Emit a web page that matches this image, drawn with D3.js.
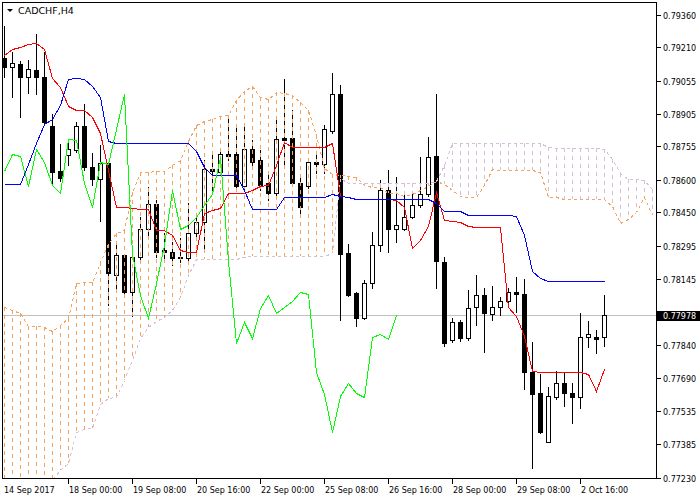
<!DOCTYPE html>
<html><head><meta charset="utf-8">
<script src="https://cdn.jsdelivr.net/npm/d3@7"></script>
<style>body{margin:0;background:#fff}svg{display:block}text{font-family:"DejaVu Sans",sans-serif}</style>
</head><body>
<svg id="c" width="700" height="500"></svg>
<script>
const symbol = "CADCHF,H4";
const opens = [.79161,.79121,.79132,.79075,.79106,.79075,.78848,.78641,.78714,.78737,
.78848,.78661,.78603,.78676,.78161,.78253,.78085,.78246,.78372,.78489,
.78277,.78269,.78246,.78239,.78354,.78405,.78650,.78638,.78718,.78718,
.78572,.78741,.78691,.78587,.78538,.78791,.78791,.78587,.78572,.78682,
.78672,.78826,.78994,.78262,.78078,.77966,.78124,.78299,.78553,.78372,
.78372,.78428,.78483,.78534,.78708,.78222,.77863,.77947,.77871,.78013,
.78069,.77983,.78016,.78044,.78085,.78075,.77714,.77618,.77395,.77602,
.77664,.77618,.77599,.77875,.77875,.77875];
const highs = [.79308,.79190,.79148,.79152,.79270,.79190,.78903,.78765,.78768,.78868,
.78949,.78722,.78760,.78684,.78308,.78259,.78254,.78430,.78566,.78507,
.78355,.78315,.78331,.78492,.78438,.78691,.78722,.78741,.78885,.78845,
.78845,.78783,.78737,.78622,.78875,.79064,.78921,.78609,.78691,.78722,
.78852,.79090,.79037,.78303,.78084,.78139,.78359,.78599,.78645,.78612,
.78541,.78538,.78704,.78796,.78994,.78246,.77963,.77955,.78093,.78162,
.78101,.78111,.78062,.78101,.78152,.78142,.77855,.77707,.77648,.77722,
.77713,.77664,.77986,.77950,.77909,.78070];
const lows = [.79073,.78983,.78891,.79001,.78994,.78862,.78576,.78596,.78668,.78730,
.78645,.78576,.78412,.78024,.78096,.78062,.77975,.78217,.78342,.78246,
.78231,.78208,.78222,.78222,.78323,.78277,.78540,.78622,.78691,.78561,
.78553,.78668,.78553,.78507,.78522,.78661,.78576,.78438,.78561,.78630,
.78630,.78817,.77955,.78065,.77929,.77958,.78104,.78274,.78269,.78315,
.78369,.78423,.78476,.78526,.78101,.77835,.77854,.77858,.77863,.77932,
.77809,.77955,.77978,.78038,.77993,.77636,.77275,.77435,.77393,.77591,
.77559,.77482,.77549,.77832,.77802,.77836];
const closes = [.79119,.79139,.79072,.79109,.79075,.78868,.78638,.78607,.78741,.78848,
.78658,.78603,.78676,.78170,.78253,.78085,.78246,.78374,.78489,.78267,
.78268,.78239,.78239,.78354,.78405,.78650,.78641,.78718,.78710,.78572,
.78741,.78684,.78576,.78538,.78787,.78783,.78587,.78476,.78684,.78673,
.78833,.78994,.78257,.78070,.77966,.78124,.78300,.78553,.78372,.78391,
.78428,.78483,.78534,.78707,.78225,.77849,.77947,.77871,.78009,.78069,
.77986,.78016,.78044,.78085,.78075,.77717,.77615,.77441,.77605,.77664,
.77618,.77602,.77875,.77889,.77869,.77978];
const tenkan = [.79175,.79204,.79211,.79227,.79228,.79204,.79069,.79027,.78940,.78921,
.78921,.78889,.78816,.78645,.78475,.78475,.78470,.78466,.78466,.78369,
.78367,.78346,.78277,.78269,.78269,.78447,.78461,.78470,.78540,.78540,
.78540,.78553,.78572,.78576,.78668,.78776,.78753,.78753,.78753,.78753,
.78753,.78768,.78526,.78521,.78512,.78512,.78512,.78512,.78512,.78507,
.78475,.78286,.78323,.78388,.78544,.78415,.78411,.78407,.78389,.78384,
.78384,.78384,.78384,.78015,.77973,.77881,.77720,.77717,.77717,.77717,
.77717,.77717,.77717,.77707,.77628,.77730];
const kijun = [.78581,.78581,.78581,.78673,.78770,.78857,.78880,.78944,.79064,.79067,
.79064,.79032,.78981,.78779,.78768,.78768,.78768,.78768,.78768,.78768,
.78768,.78768,.78768,.78768,.78733,.78659,.78622,.78622,.78622,.78622,
.78553,.78466,.78466,.78466,.78466,.78522,.78522,.78522,.78522,.78522,
.78522,.78534,.78526,.78522,.78510,.78510,.78510,.78510,.78510,.78510,
.78510,.78510,.78510,.78510,.78493,.78458,.78458,.78458,.78438,.78438,
.78438,.78438,.78438,.78438,.78434,.78346,.78180,.78148,.78135,.78135,
.78135,.78135,.78135,.78135,.78135,.78135];
const chikou = [.78641,.78718,.78710,.78572,.78741,.78684,.78576,.78538,.78787,.78783,
.78587,.78476,.78684,.78673,.78833,.78994,.78257,.78070,.77966,.78124,
.78300,.78553,.78372,.78391,.78428,.78483,.78534,.78707,.78225,.77849,
.77947,.77871,.78009,.78069,.77986,.78016,.78044,.78085,.78075,.77717,
.77615,.77441,.77605,.77664,.77618,.77602,.77875,.77889,.77869,.77978];
const senkouA = [.78013,.78001,.77987,.77927,.77925,.77923,.77904,.77934,.77964,.78125,
.78130,.78130,.78222,.78305,.78355,.78369,.78544,.78636,.78638,.78641,
.78642,.78668,.78691,.78779,.78852,.78869,.78878,.78894,.78898,.78967,
.79009,.79032,.78981,.78972,.79006,.78998,.78991,.78960,.78921,.78806,
.78655,.78627,.78622,.78618,.78615,.78576,.78569,.78567,.78540,.78538,
.78526,.78535,.78553,.78572,.78595,.78581,.78553,.78526,.78520,.78520,
.78576,.78648,.78645,.78645,.78645,.78645,.78645,.78636,.78523,.78521,
.78510,.78510,.78510,.78510,.78510,.78510,.78480,.78401,.78418,.78452,
.78519,.78438];
const senkouB = [.77173,.77173,.77173,.77173,.77173,.77173,.77219,.77265,.77297,.77440,
.77453,.77458,.77568,.77596,.77599,.77679,.77771,.77872,.77923,.77950,
.77969,.78001,.78061,.78162,.78236,.78236,.78236,.78236,.78236,.78236,
.78247,.78250,.78250,.78250,.78250,.78250,.78250,.78250,.78250,.78250,
.78250,.78263,.78609,.78586,.78586,.78584,.78584,.78584,.78584,.78584,
.78584,.78584,.78584,.78584,.78595,.78668,.78768,.78768,.78768,.78768,
.78768,.78768,.78768,.78768,.78768,.78768,.78768,.78768,.78753,.78747,
.78747,.78747,.78747,.78747,.78747,.78740,.78696,.78632,.78604,.78602,
.78599,.78558];
const priceTicks = [0.79360,0.79210,0.79055,0.78905,0.78755,0.78600,0.78450,0.78295,0.78145,0.77840,0.77690,0.77535,0.77385,0.77230];
const timeTickIdx = [0,8,16,24,32,40,48,56,64,72];
const timeTickLabels = ["14 Sep 2017","18 Sep 00:00","19 Sep 08:00","20 Sep 16:00","22 Sep 00:00","25 Sep 08:00","26 Sep 16:00","28 Sep 00:00","29 Sep 08:00","2 Oct 16:00"];

const svg = d3.select('#c');
const x = d3.scaleLinear().domain([0,81]).range([4,652]);
const y = d3.scaleLinear().domain([0.77230,0.79360]).range([477.5,14.7]);
const X = i => Math.round(x(i));
const Y = v => Math.round(y(v));
const ORANGE = '#F4A460', THISTLE = '#D8BFD8';

svg.append('defs').append('clipPath').attr('id','clip')
  .append('rect').attr('x',3).attr('y',3).attr('width',653).attr('height',475);
const plot = svg.append('g').attr('clip-path','url(#clip)');

const last = closes[closes.length-1];
plot.append('line').attr('x1',3).attr('x2',656).attr('y1',Y(last)+0.5).attr('y2',Y(last)+0.5)
  .attr('stroke','#C0C0C0').attr('shape-rendering','crispEdges');

// candles
const cg = plot.append('g').attr('shape-rendering','crispEdges');
closes.forEach((c,i)=>{
  const cx = X(i), o = opens[i];
  cg.append('line').attr('x1',cx+0.5).attr('x2',cx+0.5).attr('y1',Y(highs[i])).attr('y2',Y(lows[i])+1).attr('stroke','#000');
  const top = Y(Math.max(o,c)), bot = Y(Math.min(o,c));
  if (bot-top < 1) {
    cg.append('line').attr('x1',cx-2).attr('x2',cx+3).attr('y1',top+0.5).attr('y2',top+0.5).attr('stroke','#000');
  } else {
    cg.append('rect').attr('x',cx-1.5).attr('y',top+0.5).attr('width',4).attr('height',bot-top)
      .attr('fill', c>=o ? '#fff' : '#000').attr('stroke','#000');
  }
});

// cloud
const cl = plot.append('g').attr('shape-rendering','crispEdges');
senkouA.forEach((a,i)=>{
  const b = senkouB[i];
  cl.append('line').attr('x1',X(i)+0.5).attr('x2',X(i)+0.5).attr('y1',Y(Math.max(a,b))).attr('y2',Y(Math.min(a,b)))
    .attr('stroke', a>=b ? ORANGE : THISTLE).attr('stroke-dasharray','4,4');
});
const line = d3.line().x((d,i)=>X(i)+0.5).y(d=>Y(d)+0.5);
function path(data,color,dash){
  const p = plot.append('path').datum(data).attr('d',line).attr('fill','none').attr('stroke',color).attr('stroke-width',1)
    .attr('shape-rendering','crispEdges');
  if (dash) p.attr('stroke-dasharray',dash);
}
path(senkouA, ORANGE, '3,3');
path(senkouB, THISTLE, '3,3');
path(tenkan, '#FF0000');
path(kijun, '#0000FF');
path(chikou, '#00FF00');

// frame
svg.append('rect').attr('x',2.5).attr('y',2.5).attr('width',654).attr('height',476)
  .attr('fill','none').attr('stroke','#000').attr('shape-rendering','crispEdges');

// price axis
const ax = svg.append('g').attr('shape-rendering','crispEdges');
priceTicks.forEach(v=>{
  const yy = Y(v);
  ax.append('line').attr('x1',657).attr('x2',661).attr('y1',yy+0.5).attr('y2',yy+0.5).attr('stroke','#000');
  svg.append('text').attr('x',663).attr('y',yy+3.5).attr('font-size',8).attr('fill','#000').text(v.toFixed(5));
});
const ly = Y(last);
svg.append('rect').attr('x',657).attr('y',ly-4).attr('width',43).attr('height',10).attr('fill','#000');
svg.append('text').attr('x',663).attr('y',ly+4).attr('font-size',8).attr('fill','#fff').text(last.toFixed(5));

// time axis
timeTickIdx.forEach((t,k)=>{
  const xx = X(t);
  if (k>0) ax.append('line').attr('x1',xx+0.5).attr('x2',xx+0.5).attr('y1',479).attr('y2',484).attr('stroke','#000');
  svg.append('text').attr('x',k===0?4:xx+1).attr('y',493).attr('font-size',8).attr('fill','#000').text(timeTickLabels[k]);
});

// title
svg.append('path').attr('d','M7,9 L13,9 L10,12 Z').attr('fill','#000');
svg.append('text').attr('x',18).attr('y',14).attr('font-size',9.5).attr('fill','#000').text(symbol);
</script>
</body></html>
